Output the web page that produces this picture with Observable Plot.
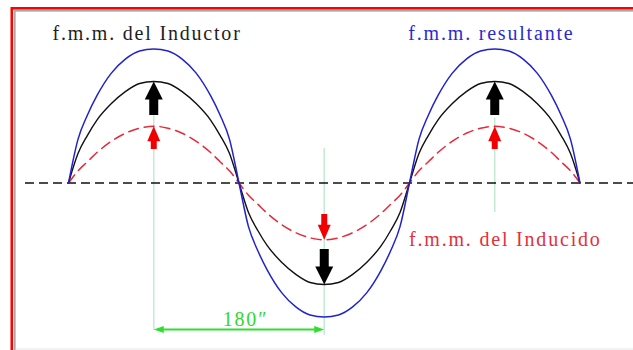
<!DOCTYPE html>
<html><head><meta charset="utf-8">
<script src="https://cdn.jsdelivr.net/npm/d3@7"></script>
<script src="https://cdn.jsdelivr.net/npm/@observablehq/plot@0.6"></script>
<style>html,body{margin:0;padding:0;background:#fff;} svg{display:block}</style>
</head><body><div id="chart"></div>
<script>
// electrical angle (degrees) of the sampled points
const angles = [0,10,20,30,45,60,75,90,105,120,135,150,160,170,
  180,190,200,210,225,240,255,270,285,300,315,330,340,350,
  360,370,380,390,405,420,435,450,465,480,495,510,520,530,540];
// f.m.m. del Inductor (black)
const inductor = [0,29,47,62,78,90,98,100,98,90,78,62,47,29,
  0,-29,-47,-62,-78,-90,-98,-100,-98,-90,-78,-62,-47,-29,
  0,29,47,62,78,90,98,100,98,90,78,62,47,29,0];
// f.m.m. del Inducido (red dashed)
const inducido = [0,12,21,30,41,49,54,56,54,49,41,30,21,12,
  0,-12,-21,-30,-41,-49,-54,-56,-54,-49,-41,-30,-21,-12,
  0,12,21,30,41,49,54,56,54,49,41,30,21,12,0];
// f.m.m. resultante (blue)
const resultante = [0,43,67,86,108,122,130,132,130,122,108,86,67,43,
  0,-43,-67,-86,-108,-122,-130,-132,-130,-122,-108,-86,-67,-43,
  0,43,67,86,108,122,130,132,130,122,108,86,67,43,0];

// arrows at the extremes
const peakAngles = [90, 270, 450];
const inductorTail = [66.5, -65.5, 66.5];
const inductorTip = [100, -100, 100];
const inducidoTail = [33, -31, 33];
const inducidoTip = [56, -56, 56];
// pale green guide lines
const guideTop = [66, 34, 64];
const guideBottom = [-145, -150, -29];
// 180 degree span
const spanFrom = [90];
const spanTo = [270];
const spanLevel = [-144.3];
// labels
const labels = ["f.m.m. del Inductor", "f.m.m. resultante", "f.m.m. del Inducido", "180″"];
const labelAngle = [82.9, 446.5, 461.2, 186.9];
const labelLevel = [140.4, 140.4, -61.6, -140.4];
const labelColor = ["#1e1e1e", "#2b2bd0", "#e3303c", "#2fd82f"];

const idx = labels.map((_, i) => i);
const arrowsOf = (tail, tip) => peakAngles.map((a, i) => ({a, tail: tail[i], tip: tip[i]}));
const blackArrows = arrowsOf(inductorTail, inductorTip);
const redArrows = arrowsOf(inducidoTail, inducidoTip);
const ups = arr => arr.filter(d => d.tip > d.tail);
const downs = arr => arr.filter(d => d.tip < d.tail);
const guides = peakAngles.map((a, i) => ({a, top: guideTop[i], bottom: guideBottom[i]}));
const span = spanFrom.map((f, i) => ({from: f, to: spanTo[i], y: spanLevel[i]}));

function arrowMarks(arr, color, shaftW, headLen, headR) {
  return [
    Plot.ruleX(ups(arr), {x: "a", y1: "tip", y2: "tail", stroke: color, strokeWidth: shaftW, insetTop: headLen - 1}),
    Plot.ruleX(downs(arr), {x: "a", y1: "tail", y2: "tip", stroke: color, strokeWidth: shaftW, insetBottom: headLen - 1}),
    Plot.vector(ups(arr), {x: "a", y: "tip", length: headLen, rotate: 0, anchor: "end", shape: "spike", r: headR, fill: color, stroke: "none"}),
    Plot.vector(downs(arr), {x: "a", y: "tip", length: headLen, rotate: 180, anchor: "end", shape: "spike", r: headR, fill: color, stroke: "none"})
  ];
}

const chart = Plot.plot({
  width: 633, height: 350,
  marginTop: 0, marginRight: 0, marginBottom: 0, marginLeft: 0,
  x: {domain: [-71.8, 596.5], range: [0, 633], axis: null},
  y: {domain: [-165, 179.8], range: [350, 0], axis: null},
  color: {type: "identity"},
  style: {background: "white", letterSpacing: "1.8px", overflow: "hidden", fontFamily: "'Liberation Serif', 'DejaVu Serif', serif"},
  marks: [
    Plot.frame({stroke: "#e6e6e6", strokeWidth: 1, insetLeft: 15, insetTop: 11, insetRight: -5, insetBottom: 1.5}),
    Plot.frame({stroke: "#a8a8a8", strokeWidth: 1.5, insetLeft: 14.25, insetTop: 10.25, insetRight: -5, insetBottom: -5}),
    Plot.frame({stroke: "#ff0000", strokeWidth: 2.6, insetLeft: 11.3, insetTop: 7.8, insetRight: -5, insetBottom: -5}),
    Plot.ruleX(guides, {x: "a", y1: "top", y2: "bottom", stroke: "#c4ead3", strokeWidth: 1.5}),
    Plot.ruleY([0], {stroke: "#111", strokeWidth: 1.6, strokeDasharray: "9,5", insetLeft: 25}),
    Plot.line(angles, {x: d => d, y: (d, i) => inducido[i], stroke: "#e8283c", strokeWidth: 1.5, strokeDasharray: "10,6", curve: "monotone-x"}),
    Plot.line(angles, {x: d => d, y: (d, i) => inductor[i], stroke: "#111", strokeWidth: 1.4, curve: "monotone-x"}),
    Plot.line(angles, {x: d => d, y: (d, i) => resultante[i], stroke: "#2222cc", strokeWidth: 1.5, curve: "monotone-x"}),
    ...arrowMarks(blackArrows, "#000", 9, 18, 9),
    ...arrowMarks(redArrows, "#f00000", 6, 15, 6.5),
    Plot.ruleY(span, {y: "y", x1: "from", x2: "to", stroke: "#2ee02e", strokeWidth: 2, insetLeft: 8, insetRight: 8}),
    Plot.vector(span, {x: "from", y: "y", length: 10, rotate: -90, anchor: "end", shape: "spike", r: 3.5, fill: "#2ee02e", stroke: "none"}),
    Plot.vector(span, {x: "to", y: "y", length: 10, rotate: 90, anchor: "end", shape: "spike", r: 3.5, fill: "#2ee02e", stroke: "none"}),
    Plot.text(idx, {x: i => labelAngle[i], y: i => labelLevel[i], text: i => labels[i], fill: i => labelColor[i],
      fontSize: 20, fontFamily: "'Liberation Serif', 'DejaVu Serif', serif", lineAnchor: "bottom", textAnchor: "middle"})
  ]
});
document.getElementById("chart").appendChild(chart);
</script>
</body></html>
